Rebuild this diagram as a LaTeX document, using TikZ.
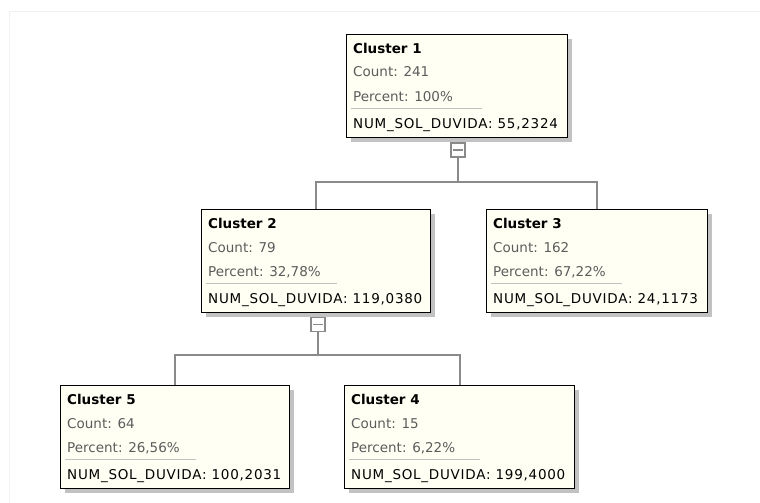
\documentclass[tikz,border=0pt]{standalone}
\usepackage{fontspec}
\setmainfont{DejaVu Sans}
\newfontfamily\numfont{DejaVu Sans}[LetterSpace=5.5]
\usetikzlibrary{shadows}

\definecolor{boxfill}{HTML}{FFFFF4}
\definecolor{infogrey}{HTML}{5C5C5C}
\definecolor{linkgrey}{HTML}{8A8A8A}
\definecolor{shadowgrey}{HTML}{C2C2C2}
\definecolor{panelgrey}{HTML}{F1F1F1}

\tikzset{
  clusterbox/.style={draw=black, line width=1.3pt, fill=boxfill, anchor=north west,
    minimum height=103pt, inner sep=0pt,
    drop shadow={shadow xshift=4pt, shadow yshift=-4pt, fill=shadowgrey, opacity=1}},
  titletext/.style={anchor=base west, inner sep=0pt, font=\fontsize{13.5}{15}\selectfont\bfseries},
  infotext/.style={anchor=base west, inner sep=0pt, text=infogrey, font=\fontsize{13.5}{15}\selectfont},
  numtext/.style={anchor=base west, inner sep=0pt, font=\fontsize{13.5}{15}\numfont},
  sepline/.style={draw=shadowgrey, line width=1pt},
  link/.style={draw=linkgrey, line width=1.8pt},
  toggle/.style={draw=linkgrey, line width=1.2pt, fill=white, minimum size=14pt, inner sep=0pt,
    path picture={\draw[linkgrey, line width=1.2pt]
      ([xshift=-5pt]path picture bounding box.center) -- ([xshift=5pt]path picture bounding box.center);}}
}

\begin{document}
\begin{tikzpicture}[x=1pt, y=-1pt]
  \useasboundingbox[fill=white] (0,0) rectangle (760,503);
  % panel edge
  \draw[panelgrey, line width=1pt] (9,503) -- (9,12) -- (760,12);

  % clusters: number/left/top/width/count/percent/value
  \foreach \n/\x/\y/\w/\cnt/\pct/\val in {
      1/346/34/221/241/100\%/55{,}2324,
      2/201/209/229/79/32{,}78\%/119{,}0380,
      3/486/209/221/162/67{,}22\%/24{,}1173,
      4/344/385/230/15/6{,}22\%/199{,}4000,
      5/60/385/229/64/26{,}56\%/100{,}2031}{
    \node[clusterbox, minimum width=\w pt] (c\n) at (\x,\y) {};
    \node[titletext] (t\n) at ([xshift=7pt, yshift=-19pt]c\n.north west) {Cluster \n};
    \node[infotext] (n\n) at ([xshift=7pt, yshift=-43pt]c\n.north west) {Count: \cnt};
    \node[infotext] (p\n) at ([xshift=7pt, yshift=-67pt]c\n.north west) {Percent: \pct};
    \draw[sepline] ([xshift=5pt, yshift=-74pt]c\n.north west) -- ++(131,0);
    \node[numtext] (v\n) at ([xshift=7pt, yshift=-94pt]c\n.north west) {NUM\_SOL\_DUVIDA: \val};
  }

  % collapse toggles
  \node[toggle] (g1) at (458,150) {};
  \node[toggle] (g2) at (318,324.5) {};
  \coordinate (j1) at (458,182);
  \coordinate (j2) at (318,355);

  % links
  \draw[link] (g1) -- (j1);
  \draw[link] (j1) -| (c2.north);
  \draw[link] (j1) -| (c3.north);
  \draw[link] (g2) -- (j2);
  \draw[link] (j2) -| (c5.north);
  \draw[link] (j2) -| (c4.north);
\end{tikzpicture}
\end{document}
